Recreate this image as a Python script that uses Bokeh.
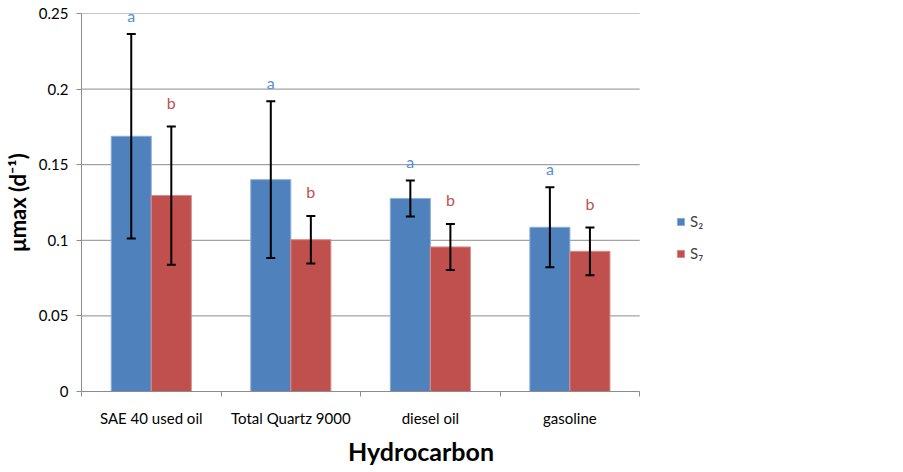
import numpy as np
from bokeh.plotting import figure
from bokeh.models import (Range1d, FixedTicker, ColumnDataSource, Whisker, TeeHead,
                          LabelSet, Legend, LegendItem)
from bokeh.core.properties import value
from bokeh.embed import file_html
from bokeh.resources import INLINE

categories = ["SAE 40 used oil", "Total Quartz 9000", "diesel oil", "gasoline"]
s2_values = [0.1688, 0.1401, 0.1277, 0.1086]
s2_errors = [0.0676, 0.0518, 0.0119, 0.0265]
s7_values = [0.1296, 0.1004, 0.0956, 0.0927]
s7_errors = [0.0457, 0.0157, 0.0152, 0.0158]
s2_letters = ["a", "a", "a", "a"]
s7_letters = ["b", "b", "b", "b"]
y_ticks = [0, 0.05, 0.1, 0.15, 0.2, 0.25]
y_tick_labels = ["0", "0.05", "0.1", "0.15", "0.2", "0.25"]
series_names = ["S\u2082", "S\u2087"]

FONT = "Lato"
BLUE = "#4F81BD"
RED = "#C0504D"
GRID = "#8C8C8C"

n = len(categories)
centers = np.arange(n) + 0.5
bw = 0.287
x2 = centers - bw / 2
x7 = centers + bw / 2

s2 = np.array(s2_values); e2 = np.array(s2_errors)
s7 = np.array(s7_values); e7 = np.array(s7_errors)

src2 = ColumnDataSource(dict(x=x2, top=s2, lower=s2 - e2, upper=s2 + e2, lab=s2_letters))
src7 = ColumnDataSource(dict(x=x7, top=s7, lower=s7 - e7, upper=s7 + e7, lab=s7_letters))

# layout: plot area for categories spans 80..639 px; frame extends further right to hold legend
W, H = 900, 470
LEFT, CAT_RIGHT, FRAME_RIGHT, TOP, BOTTOM = 80, 639, 760, 13, 391
x_end = n * (FRAME_RIGHT - LEFT) / (CAT_RIGHT - LEFT)

p = figure(width=W, height=H, output_backend="svg", toolbar_location=None,
           x_range=Range1d(0, x_end), y_range=Range1d(0, 0.25),
           min_border_left=LEFT, min_border_right=W - FRAME_RIGHT, min_border_top=TOP,
           min_border_bottom=H - BOTTOM)
p.outline_line_color = None
p.background_fill_color = "white"
p.border_fill_color = "white"

# horizontal gridlines limited to the category area
p.segment(x0=[0] * len(y_ticks), x1=[n] * len(y_ticks), y0=y_ticks, y1=y_ticks,
          line_color=GRID, line_width=1, level="underlay")

r2 = p.vbar(x="x", top="top", width=bw, source=src2, fill_color=BLUE, line_color="#8EAEDB", line_width=1)
r7 = p.vbar(x="x", top="top", width=bw, source=src7, fill_color=RED, line_color="#D98A88", line_width=1)

for src in (src2, src7):
    w = Whisker(base="x", upper="upper", lower="lower", source=src, level="annotation",
                line_color="black", line_width=2,
                upper_head=TeeHead(size=9, line_color="black", line_width=2),
                lower_head=TeeHead(size=9, line_color="black", line_width=2))
    p.add_layout(w)

p.add_layout(LabelSet(x="x", y="upper", text="lab", source=src2, y_offset=19,
                      text_align="center", text_baseline="middle", text_font=value(FONT),
                      text_font_size=value("16px"), text_color=value("#558ED5")))
p.add_layout(LabelSet(x="x", y="upper", text="lab", source=src7, y_offset=24,
                      text_align="center", text_baseline="middle", text_font=value(FONT),
                      text_font_size=value("16px"), text_color=value(RED)))

# x axis
p.xaxis.bounds = (0, n)
p.xaxis.ticker = FixedTicker(ticks=list(centers), minor_ticks=list(range(n + 1)))
p.xaxis.major_label_overrides = {float(c): name for c, name in zip(centers, categories)}
p.xaxis.major_tick_line_color = None
p.xaxis.minor_tick_line_color = GRID
p.xaxis.minor_tick_out = 5
p.xaxis.minor_tick_in = 0
p.xaxis.axis_line_color = GRID
p.xaxis.major_label_text_font = FONT
p.xaxis.major_label_text_font_size = "15px"
p.xaxis.major_label_text_color = "black"
p.xaxis.major_label_standoff = 11
p.xaxis.axis_label = "Hydrocarbon"
p.xaxis.axis_label_text_font = FONT
p.xaxis.axis_label_text_font_style = "bold"
p.xaxis.axis_label_text_font_size = "25px"
p.xaxis.axis_label_text_color = "black"
p.xaxis.axis_label_standoff = 6

# y axis
p.yaxis.ticker = FixedTicker(ticks=y_ticks, minor_ticks=[])
p.yaxis.major_label_overrides = {t: l for t, l in zip(y_ticks, y_tick_labels)}
p.yaxis.axis_line_color = GRID
p.yaxis.major_tick_line_color = GRID
p.yaxis.major_tick_out = 5
p.yaxis.major_tick_in = 0
p.yaxis.minor_tick_line_color = None
p.yaxis.major_label_text_font = FONT
p.yaxis.major_label_text_font_size = "15px"
p.yaxis.major_label_text_color = "black"
p.yaxis.major_label_standoff = 8
p.yaxis.axis_label = "\u03bcmax (d\u207b\u00b9)"
p.yaxis.axis_label_text_font = FONT
p.yaxis.axis_label_text_font_style = "bold"
p.yaxis.axis_label_text_font_size = "22px"
p.yaxis.axis_label_text_color = "black"
p.yaxis.axis_label_standoff = 5

p.xgrid.grid_line_color = None
p.ygrid.grid_line_color = None

legend = Legend(items=[LegendItem(label=series_names[0], renderers=[r2]),
                       LegendItem(label=series_names[1], renderers=[r7])],
                location=(595, 129), orientation="vertical",
                glyph_width=9, glyph_height=9, label_standoff=5, spacing=14,
                padding=0, margin=0, border_line_color=None, background_fill_alpha=0,
                label_text_font=FONT, label_text_font_size="15px", label_height=14)
p.add_layout(legend, "center")

open("out.html", "w").write(file_html(p, INLINE))
